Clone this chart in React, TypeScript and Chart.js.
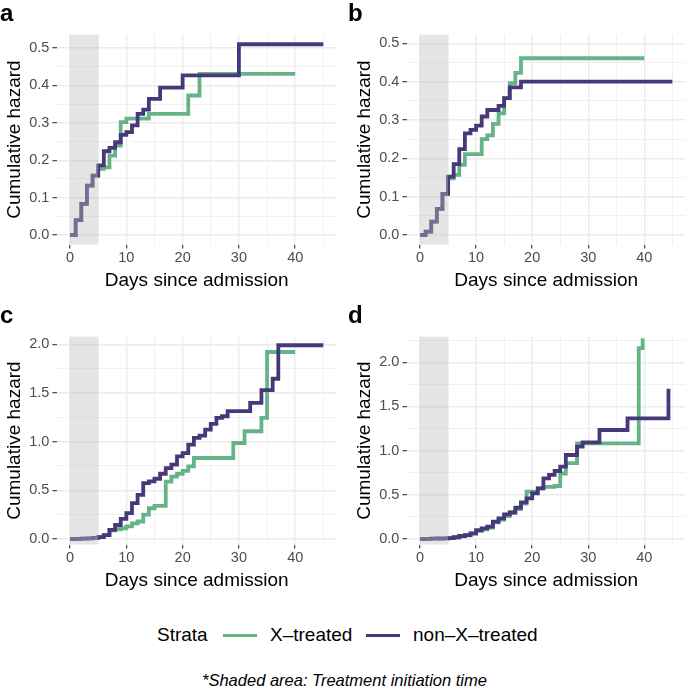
import React, { useEffect, useRef } from 'react';
import { Chart, registerables } from 'chart.js';

Chart.register(...registerables);

const GREEN = '#67b388';
const PURPLE = '#47387a';
const FONT = "'Liberation Sans', Arial, Helvetica, sans-serif";

// ---- data (days since admission, cumulative hazard) ----
// panel a
const aDaysX = [0, 1, 2, 3, 4, 5, 6, 7, 8, 9, 10, 14, 21, 23, 40];
const aHazX = [0, 0.04, 0.083, 0.132, 0.159, 0.177, 0.181, 0.212, 0.239, 0.302, 0.311, 0.324, 0.373, 0.431, 0.431];
const aDaysNon = [0, 1, 2, 3, 4, 5, 6, 7, 8, 9, 10, 11, 12, 13, 14, 16, 20, 30, 45];
const aHazNon = [0, 0.04, 0.083, 0.132, 0.159, 0.186, 0.224, 0.233, 0.248, 0.268, 0.275, 0.293, 0.324, 0.335, 0.364, 0.394, 0.427, 0.51, 0.51];
// panel b
const bDaysX = [0, 1, 2, 3, 4, 5, 6, 7, 8, 11, 12, 13, 14, 15, 16, 17, 18, 40];
const bHazX = [0, 0.009, 0.035, 0.068, 0.107, 0.148, 0.157, 0.183, 0.211, 0.25, 0.26, 0.29, 0.317, 0.357, 0.396, 0.423, 0.461, 0.461];
const bDaysNon = [0, 1, 2, 3, 4, 5, 6, 7, 8, 9, 10, 11, 12, 14, 15, 16, 18, 45];
const bHazNon = [0, 0.009, 0.035, 0.068, 0.107, 0.152, 0.185, 0.224, 0.265, 0.274, 0.285, 0.309, 0.326, 0.337, 0.357, 0.385, 0.4, 0.4];
// panel c
const cDaysX = [0, 1, 2, 3, 4, 5, 6, 7, 8, 9, 10, 11, 12, 13, 14, 15, 17, 18, 19, 20, 21, 22, 29, 31, 34, 35, 40];
const cHazX = [0, 0.002, 0.004, 0.007, 0.012, 0.02, 0.04, 0.09, 0.1, 0.11, 0.13, 0.16, 0.18, 0.25, 0.316, 0.34, 0.59, 0.64, 0.67, 0.7, 0.746, 0.832, 0.986, 1.107, 1.244, 1.921, 1.921];
const cDaysNon = [0, 1, 2, 3, 4, 5, 6, 7, 8, 9, 10, 11, 12, 13, 14, 15, 16, 17, 18, 19, 20, 21, 22, 23, 24, 25, 26, 27, 28, 32, 34, 36, 37, 45];
const cHazNon = [0, 0.002, 0.004, 0.007, 0.012, 0.02, 0.04, 0.093, 0.144, 0.206, 0.265, 0.368, 0.454, 0.574, 0.591, 0.619, 0.67, 0.729, 0.763, 0.849, 0.883, 0.969, 1.038, 1.062, 1.124, 1.182, 1.244, 1.261, 1.313, 1.399, 1.529, 1.646, 1.99, 1.99];
// panel d
const dDaysX = [0, 1, 2, 3, 4, 5, 6, 7, 8, 9, 10, 11, 12, 13, 14, 15, 16, 17, 18, 19, 21, 22, 24, 25, 26, 28, 39, 39.7, 40];
const dHazX = [0, 0.002, 0.004, 0.006, 0.008, 0.011, 0.018, 0.03, 0.042, 0.06, 0.09, 0.11, 0.13, 0.19, 0.22, 0.26, 0.3, 0.34, 0.4, 0.536, 0.574, 0.59, 0.6, 0.74, 0.86, 1.083, 2.16, 2.25, 2.25];
const dDaysNon = [0, 1, 2, 3, 4, 5, 6, 7, 8, 9, 10, 11, 12, 13, 14, 15, 16, 17, 18, 19, 20, 21, 22, 23, 24, 25, 26, 28, 29, 32, 37, 44.3];
const dHazNon = [0, 0.002, 0.004, 0.006, 0.008, 0.011, 0.02, 0.034, 0.045, 0.064, 0.1, 0.12, 0.14, 0.196, 0.234, 0.28, 0.3, 0.355, 0.415, 0.46, 0.517, 0.574, 0.687, 0.725, 0.77, 0.819, 0.951, 1.045, 1.094, 1.234, 1.366, 1.7];

// ---- ticks ----
const xMajorTicks = [0, 10, 20, 30, 40];
const xTickLabels = ['0', '10', '20', '30', '40'];
const smallYTicks = [0, 0.1, 0.2, 0.3, 0.4, 0.5];
const smallYLabels = ['0.0', '0.1', '0.2', '0.3', '0.4', '0.5'];
const bigYTicks = [0, 0.5, 1, 1.5, 2];
const bigYLabels = ['0.0', '0.5', '1.0', '1.5', '2.0'];

const SHADE_START = 0;
const SHADE_END = 5;
const X_TITLE = 'Days since admission';
const Y_TITLE = 'Cumulative hazard';
const SERIES_NAMES = ['X\u2013treated', 'non\u2013X\u2013treated'];

const toPts = (xs: number[], ys: number[]) => xs.map((x, i) => ({ x, y: ys[i] }));

const shadePlugin = {
  id: 'shade',
  afterDatasetsDraw(chart: any) {
    const { ctx, chartArea, scales } = chart;
    const x0 = scales.x.getPixelForValue(SHADE_START);
    const x1 = scales.x.getPixelForValue(SHADE_END);
    ctx.save();
    ctx.fillStyle = 'rgba(190,190,190,0.4)';
    ctx.fillRect(x0, chartArea.top, x1 - x0, chartArea.bottom - chartArea.top);
    ctx.restore();
  },
};

const near = (a: number, b: number) => Math.abs(a - b) < 1e-6;

type PanelProps = {
  daysX: number[]; hazX: number[]; daysNon: number[]; hazNon: number[];
  yMin: number; yMax: number; yTicks: number[]; yLabels: string[];
  left: number; top: number; width: number; padRight: number;
  plotBottom: number; titlePad: number;
};

function Panel(p: PanelProps) {
  const ref = useRef<HTMLCanvasElement | null>(null);
  useEffect(() => {
    if (!ref.current) return;
    const H = 300;
    const plotTop = 34.7;
    const plotLeft = 57.4;
    const yStep = p.yTicks[1] - p.yTicks[0];
    const yAll: number[] = [];
    p.yTicks.forEach((v) => {
      yAll.push(v);
      if (v + yStep / 2 <= p.yMax) yAll.push(v + yStep / 2);
    });
    const xAll: number[] = [];
    xMajorTicks.forEach((v) => {
      xAll.push(v);
      xAll.push(v + 5);
    });
    const isXMajor = (v: number) => xMajorTicks.some((m) => near(m, v));
    const isYMajor = (v: number) => p.yTicks.some((m) => near(m, v));
    const tickFont = { family: FONT, size: 14.5 };
    const titleFont = { family: FONT, size: 19 };
    const chart = new Chart(ref.current, {
      type: 'line',
      data: {
        datasets: [
          {
            label: SERIES_NAMES[1],
            data: toPts(p.daysNon, p.hazNon),
            borderColor: PURPLE,
            borderWidth: 3.8,
            pointRadius: 0,
            stepped: 'before',
            fill: false,
          },
          {
            label: SERIES_NAMES[0],
            data: toPts(p.daysX, p.hazX),
            borderColor: GREEN,
            borderWidth: 3.8,
            pointRadius: 0,
            stepped: 'before',
            fill: false,
          },
        ],
      },
      options: {
        animation: false,
        responsive: false,
        devicePixelRatio: 1,
        layout: { padding: { left: 0, top: plotTop, right: p.padRight, bottom: 0 } },
        plugins: { legend: { display: false }, tooltip: { enabled: false } },
        scales: {
          x: {
            type: 'linear',
            min: -2.25,
            max: 47.25,
            afterBuildTicks: (s: any) => { s.ticks = xAll.map((v) => ({ value: v })); },
            afterFit: (s: any) => { s.height = H - p.plotBottom; },
            ticks: {
              autoSkip: false,
              maxRotation: 0,
              padding: 1,
              color: '#4d4d4d',
              font: tickFont,
              callback: (v: any) => {
                const i = xMajorTicks.findIndex((m) => near(m, Number(v)));
                return i >= 0 ? xTickLabels[i] : '';
              },
            },
            grid: {
              color: '#ebebeb',
              lineWidth: (c: any) => (isXMajor(c.tick.value) ? 1.4 : 0.7),
              tickColor: (c: any) => (isXMajor(c.tick.value) ? '#333333' : 'rgba(0,0,0,0)'),
              tickLength: 4,
              tickWidth: 1.1,
            },
            border: { display: false },
            title: { display: true, text: X_TITLE, color: '#000', font: titleFont, padding: { top: 0, bottom: p.titlePad } },
          },
          y: {
            type: 'linear',
            min: p.yMin,
            max: p.yMax,
            afterBuildTicks: (s: any) => { s.ticks = yAll.map((v) => ({ value: v })); },
            afterFit: (s: any) => { s.width = plotLeft; },
            ticks: {
              autoSkip: false,
              padding: 3,
              color: '#4d4d4d',
              font: tickFont,
              callback: (v: any) => {
                const i = p.yTicks.findIndex((m) => near(m, Number(v)));
                return i >= 0 ? p.yLabels[i] : '';
              },
            },
            grid: {
              color: '#ebebeb',
              lineWidth: (c: any) => (isYMajor(c.tick.value) ? 1.4 : 0.7),
              tickColor: (c: any) => (isYMajor(c.tick.value) ? '#333333' : 'rgba(0,0,0,0)'),
              tickLength: 5,
              tickWidth: 1.1,
            },
            border: { display: false },
            title: { display: true, text: Y_TITLE, color: '#000', font: titleFont, padding: { top: 3, bottom: 0 } },
          },
        },
      } as any,
      plugins: [shadePlugin],
    });
    return () => chart.destroy();
  }, []);
  return (
    <canvas
      ref={ref}
      width={p.width}
      height={300}
      style={{ position: 'absolute', left: p.left, top: p.top, width: p.width, height: 300, display: 'block' }}
    />
  );
}

const letterStyle = (left: number, top: number): React.CSSProperties => ({
  position: 'absolute', left, top, fontFamily: FONT, fontWeight: 'bold', fontSize: 24, lineHeight: '24px', color: '#000',
});
const legendText = (left: number): React.CSSProperties => ({
  position: 'absolute', left, top: 624, fontFamily: FONT, fontSize: 19, lineHeight: '22px', color: '#000', whiteSpace: 'nowrap',
});
const legendLine = (left: number, color: string): React.CSSProperties => ({
  position: 'absolute', left, top: 633.5, width: 34, height: 3.8, background: color,
});

export default function App() {
  return (
    <div style={{ position: 'absolute', left: 0, top: 0, width: 685, height: 686, background: '#fff', overflow: 'hidden' }}>
      <Panel daysX={aDaysX} hazX={aHazX} daysNon={aDaysNon} hazNon={aHazNon}
        yMin={-0.0254} yMax={0.5356} yTicks={smallYTicks} yLabels={smallYLabels}
        left={0} top={0} width={342} padRight={6} plotBottom={244.5} titlePad={7.6} />
      <Panel daysX={bDaysX} hazX={bHazX} daysNon={bDaysNon} hazNon={bHazNon}
        yMin={-0.0248} yMax={0.5224} yTicks={smallYTicks} yLabels={smallYLabels}
        left={350} top={0} width={335} padRight={0} plotBottom={244.5} titlePad={7.6} />
      <Panel daysX={cDaysX} hazX={cHazX} daysNon={cDaysNon} hazNon={cHazNon}
        yMin={-0.0565} yMax={2.078} yTicks={bigYTicks} yLabels={bigYLabels}
        left={0} top={302} width={342} padRight={6} plotBottom={242.5} titlePad={9.6} />
      <Panel daysX={dDaysX} hazX={dHazX} daysNon={dDaysNon} hazNon={dHazNon}
        yMin={-0.062} yMax={2.29} yTicks={bigYTicks} yLabels={bigYLabels}
        left={350} top={302} width={335} padRight={0} plotBottom={242.5} titlePad={9.6} />
      <div style={letterStyle(0, 1)}>a</div>
      <div style={letterStyle(348, 1)}>b</div>
      <div style={letterStyle(0, 303)}>c</div>
      <div style={letterStyle(348, 303)}>d</div>
      <div style={legendText(157)}>Strata</div>
      <div style={legendLine(223, GREEN)} />
      <div style={legendText(270)}>{SERIES_NAMES[0]}</div>
      <div style={legendLine(366, PURPLE)} />
      <div style={legendText(413)}>{SERIES_NAMES[1]}</div>
      <div style={{ position: 'absolute', left: 202, top: 670, fontFamily: FONT, fontStyle: 'italic', fontSize: 16.5, lineHeight: '20px', color: '#000', whiteSpace: 'nowrap' }}>
        *Shaded area: Treatment initiation time
      </div>
    </div>
  );
}
